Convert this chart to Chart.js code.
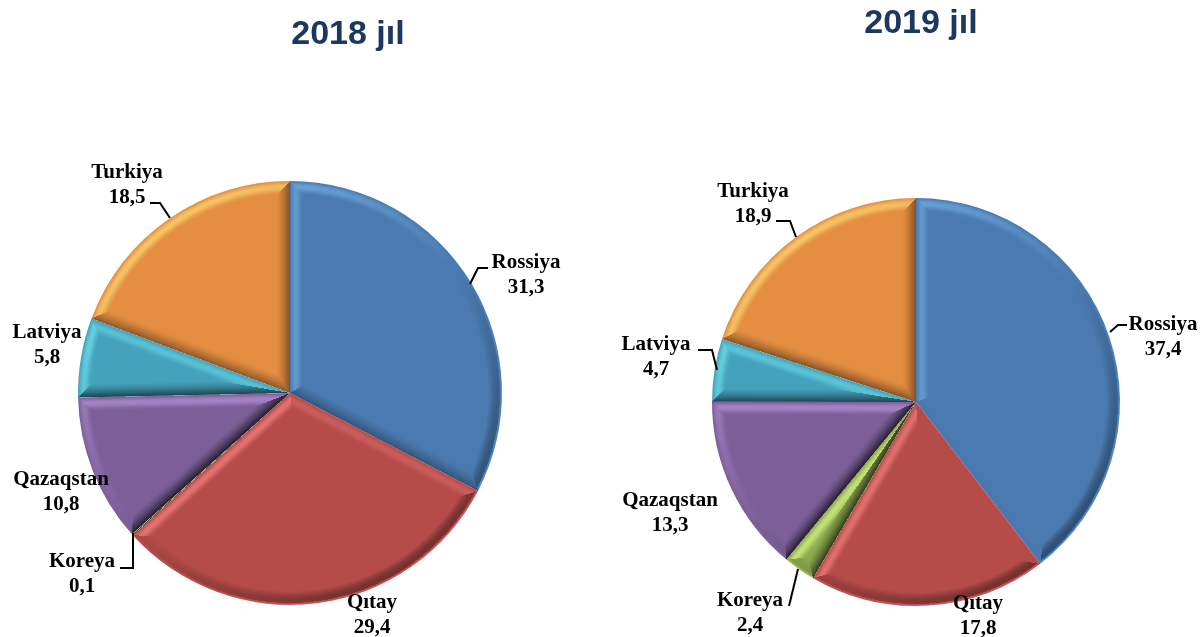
<!DOCTYPE html>
<html>
<head>
<meta charset="utf-8">
<title>2018 / 2019 jıl</title>
<script src="https://cdn.jsdelivr.net/npm/chart.js@4"></script>
<style>
  html, body { margin: 0; padding: 0; background: #fff; width: 1202px; height: 637px; overflow: hidden; }
  .box { position: absolute; top: 0; width: 601px; height: 637px; }
  #box18 { left: 0; }
  #box19 { left: 601px; }
</style>
</head>
<body>
<div class="box" id="box18"><canvas id="pie18"></canvas></div>
<div class="box" id="box19"><canvas id="pie19"></canvas></div>
<script>
const categories = ['Rossiya', 'Qıtay', 'Koreya', 'Qazaqstan', 'Latviya', 'Turkiya'];
const values2018 = [31.3, 29.4, 0.1, 10.8, 5.8, 18.5];
const values2019 = [37.4, 17.8, 2.4, 13.3, 4.7, 18.9];
const colors = ['#4a7ab0', '#b54c4a', '#8eae50', '#7c5f98', '#45a2bd', '#e58e42'];

// label centres and leader lines, in canvas px
const layout18 = {
  title: '2018 jıl', titleAt: [348, 45], bevel: 14,
  padding: { left: 78, right: 99, top: 181, bottom: 32 },
  labels: [[526, 263], [372, 603], [82, 562], [61, 480], [47, 333], [127, 173]],
  leaders: [
    [[470, 284], [478, 268], [488, 268]],
    null,
    [[133, 533], [133, 568], [120, 568]],
    null,
    null,
    [[150, 203], [160, 203], [170, 218]]
  ]
};
const layout19 = {
  title: '2019 jıl', titleAt: [320, 34], bevel: 14,
  padding: { left: 111, right: 82, top: 198, bottom: 31 },
  labels: [[562, 325], [377, 604], [149, 601], [69, 501], [55, 345], [152, 192]],
  leaders: [
    [[509, 332], [517, 325], [526, 325]],
    null,
    [[197, 569], [188, 606]],
    null,
    [[97, 350], [111, 350], [116, 370]],
    [[175, 221], [189, 221], [195, 237]]
  ]
};

function fmt(v) { return v.toFixed(1).replace('.', ','); }

// lit side goes to a saturated tint of the slice colour, dark side to a deep shade
function shade(c, k, up) {
  if (!up) return c * (1 - k);
  return c + (Math.min(255, c * 1.4 + 30) - c) * k * 1.5;
}

// bevel on each slice, shaded per pixel from the arcs chart.js laid out
const bevelPlugin = {
  id: 'bevel',
  afterDatasetsDraw(chart, args, opts) {
    const arcs = chart.getDatasetMeta(0).data;
    const { ctx, width, height } = chart;
    const img = ctx.getImageData(0, 0, width, height);
    const px = img.data;
    const w = opts.width;
    const cx = arcs[0].x, cy = arcs[0].y, R = arcs[0].outerRadius;
    const lx = -0.6, ly = -0.8;
    const slices = arcs.map(a => ({ s: a.startAngle, e: a.endAngle }));

    for (let y = Math.floor(cy - R - 1); y <= cy + R + 1; y++) {
      for (let x = Math.floor(cx - R - 1); x <= cx + R + 1; x++) {
        const dx = x + 0.5 - cx, dy = y + 0.5 - cy;
        const r = Math.hypot(dx, dy);
        if (r > R + 1 || r === 0) continue;
        let th = Math.atan2(dy, dx);
        if (th < -Math.PI / 2) th += Math.PI * 2;
        const sl = slices.find(a => th >= a.s && th < a.e);
        if (!sl) continue;
        let d = Math.max(R - r, 0), nx = dx / r, ny = dy / r, outer = true;
        const ds = r * Math.sin(Math.min(th - sl.s, Math.PI / 2));
        const de = r * Math.sin(Math.min(sl.e - th, Math.PI / 2));
        if (ds < d) { d = ds; nx = Math.sin(sl.s); ny = -Math.cos(sl.s); outer = false; }
        if (de < d) { d = de; nx = -Math.sin(sl.e); ny = Math.cos(sl.e); outer = false; }
        const t = d / w;
        if (t >= 1) continue;
        const lit = nx * lx + ny * ly;
        let up = true, k;
        if (lit >= 0) {
          k = 0.42 * lit * Math.pow(Math.sin(Math.PI * Math.pow(t, 0.8)), 2);
        } else {
          up = false;
          k = 0.72 * -lit * Math.pow(1 - t, 1.4);
          if (outer) {
            k = 0.36 * -lit * Math.sin(Math.PI * Math.pow(t, 0.6));
            if (t < 0.15) { up = true; k = 0.22 * -lit * (1 - t / 0.15); }
          }
        }
        const i = (y * width + x) * 4;
        px[i] = shade(px[i], k, up);
        px[i + 1] = shade(px[i + 1], k, up);
        px[i + 2] = shade(px[i + 2], k, up);
      }
    }
    ctx.putImageData(img, 0, 0);
  }
};

const textPlugin = {
  id: 'texts',
  afterDraw(chart, args, opts) {
    const { ctx } = chart;
    const vals = chart.data.datasets[0].data;
    const cfg = opts.cfg;
    ctx.save();
    ctx.textAlign = 'center';
    ctx.textBaseline = 'middle';
    ctx.fillStyle = '#1c3760';
    ctx.font = 'bold 34px "Liberation Sans"';
    ctx.fillText(cfg.title, cfg.titleAt[0], cfg.titleAt[1] - 10);

    ctx.fillStyle = '#000';
    ctx.strokeStyle = '#000';
    ctx.lineWidth = 2;
    ctx.font = 'bold 21px "Liberation Serif"';
    chart.data.labels.forEach((name, i) => {
      const [x, y] = cfg.labels[i];
      ctx.fillText(name, x, y);
      ctx.fillText(fmt(vals[i]), x, y + 25);
      const line = cfg.leaders[i];
      if (line) {
        ctx.beginPath();
        line.forEach((p, j) => j ? ctx.lineTo(p[0], p[1]) : ctx.moveTo(p[0], p[1]));
        ctx.stroke();
      }
    });
    ctx.restore();
  }
};

function makePie(id, values, cfg) {
  new Chart(document.getElementById(id), {
    type: 'pie',
    data: {
      labels: categories,
      datasets: [{ data: values, backgroundColor: colors, borderWidth: 0 }]
    },
    options: {
      responsive: true,
      maintainAspectRatio: false,
      animation: false,
      layout: { padding: cfg.padding },
      plugins: {
        legend: { display: false },
        tooltip: { enabled: false },
        bevel: { width: cfg.bevel },
        texts: { cfg: cfg }
      }
    },
    plugins: [bevelPlugin, textPlugin]
  });
}

makePie('pie18', values2018, layout18);
makePie('pie19', values2019, layout19);
</script>
</body>
</html>
